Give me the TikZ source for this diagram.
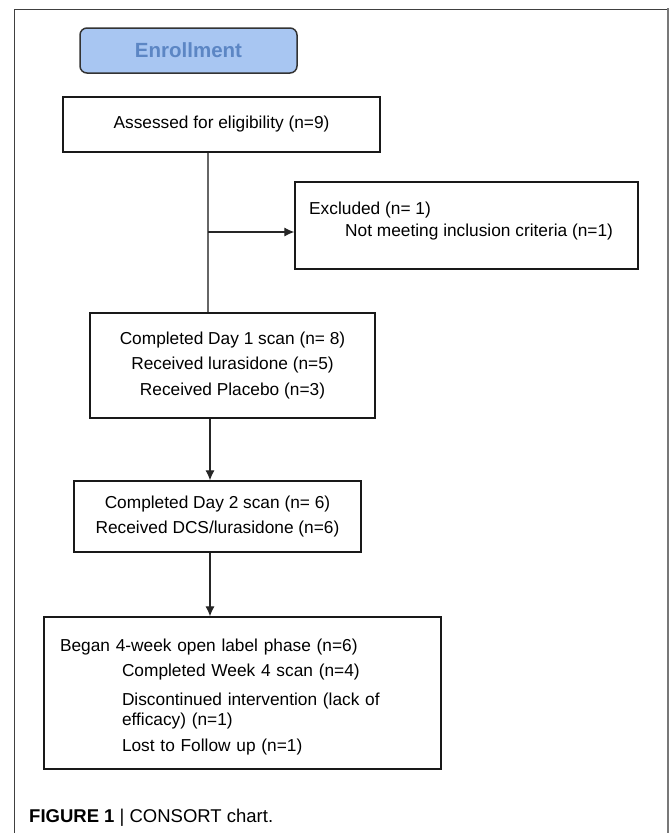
\documentclass[tikz,border=0pt]{standalone}
\usepackage{fontspec}
\setmainfont{Liberation Sans}
\usetikzlibrary{arrows.meta}
\definecolor{enrolfill}{RGB}{168,198,242}
\definecolor{enroltext}{RGB}{92,134,196}
\definecolor{framegray}{RGB}{120,120,120}
\tikzset{
  box/.style={draw=black!90, line width=1.3pt, inner sep=0pt, align=center,
    font=\fontsize{17.3}{25.5}\selectfont},
  txt/.style={inner sep=0pt, font=\fontsize{17.3}{20}\selectfont},
  flow/.style={line width=1.1pt, draw=black!85},
  arrow/.style={flow, -{Latex[length=10pt,width=9pt]}}
}
\begin{document}
\begin{tikzpicture}[x=1pt, y=-1pt]
  \useasboundingbox (0,0) rectangle (669,833);
  % outer frame
  \draw[line width=1pt, draw=black!75] (14,833) -- (14,9) -- (668,9);
  \draw[line width=2.2pt, draw=framegray] (668,8) -- (668,833);

  \node[draw=black!80, line width=1.5pt, rounded corners=7pt, fill=enrolfill,
        minimum width=217pt, minimum height=45pt, text=enroltext,
        font=\fontsize{20.5}{24}\selectfont\bfseries] (enrol) at (188.5,50.5) {Enrollment};

  \node[box, minimum width=317pt, minimum height=55pt] (assess) at (221.5,124.5)
    {Assessed for eligibility (n=9)};

  \node[box, minimum width=343pt, minimum height=87pt] (excl) at (466.5,225.5) {};
  \node[txt, anchor=base west] (excl1) at (309,214) {Excluded (n= 1)};
  \node[txt, anchor=base west] (excl2) at (345,236) {Not meeting inclusion criteria (n=1)};

  \node[box, minimum width=285pt, minimum height=105pt] (day1) at (232.5,365.5)
    {Completed Day 1 scan (n= 8)\\ Received lurasidone (n=5)\\ Received Placebo (n=3)};

  \node[box, minimum width=287pt, minimum height=71pt] (day2) at (217.5,516.5)
    {Completed Day 2 scan (n= 6)\\ Received DCS/lurasidone (n=6)};

  \node[box, minimum width=397pt, minimum height=152pt, text width=365pt,
        inner xsep=16pt, align=left, font=\fontsize{17.3}{20}\selectfont] (open) at (242.5,693)
    {\rule{0pt}{21pt}Began 4-week open label phase (n=6)\\[5pt]
     \hspace*{62pt}Completed Week 4 scan (n=4)\\[9pt]
     \hspace*{62pt}Discontinued intervention (lack of\\
     \hspace*{62pt}efficacy) (n=1)\\[6pt]
     \hspace*{62pt}Lost to Follow up (n=1)};

  % connectors
  \coordinate (split) at (208,232);
  \coordinate (spine) at (210,0);
  \draw[flow, draw=black!60, line width=1.4pt] (split |- assess.south) -- (split |- day1.north);
  \draw[arrow] (split) -- (split -| excl.west);
  \draw[arrow] (spine |- day1.south) -- (spine |- day2.north);
  \draw[arrow] (spine |- day2.south) -- (spine |- open.north);

  \node[inner sep=0pt, anchor=base west, font=\fontsize{18.5}{22}\selectfont] (cap) at (29,822)
    {\textbf{FIGURE 1} | CONSORT chart.};
\end{tikzpicture}
\end{document}
